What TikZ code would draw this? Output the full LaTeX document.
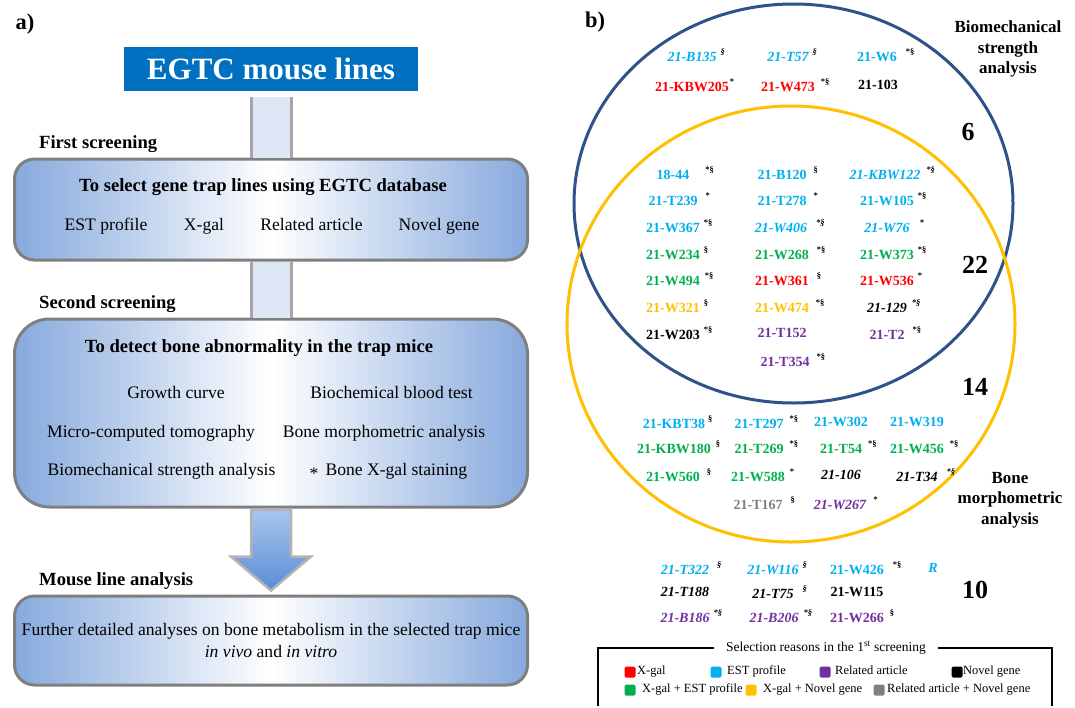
\documentclass[tikz,border=0pt]{standalone}
\usepackage{fontspec}
\setmainfont{Liberation Serif}
\usetikzlibrary{calc}

\definecolor{egtcblue}{HTML}{0070C0}
\definecolor{boxblue}{HTML}{86A9DD}
\definecolor{framegray}{HTML}{7F7F7F}
\definecolor{shaftblue}{HTML}{DCE6F4}
\definecolor{shaftgray}{HTML}{A6A6A6}
\definecolor{arrowtop}{HTML}{A9C5EC}
\definecolor{arrowbot}{HTML}{5A8DD6}
\definecolor{arrowgray}{HTML}{B4B4B4}
\definecolor{bmnavy}{HTML}{2F5289}
\definecolor{bonegold}{HTML}{FFC000}
% selection reasons
\definecolor{xgalred}{HTML}{FF0000}
\definecolor{estcyan}{HTML}{00B0F0}
\definecolor{relpurple}{HTML}{7030A0}
\definecolor{xestgreen}{HTML}{00B050}
\definecolor{xnovgold}{HTML}{FFC000}
\definecolor{relnovgray}{HTML}{808080}

% marks after a line name, kept out of the centring
\newcommand{\selmark}[2][5pt]{\rlap{\hspace{#1}\raisebox{7pt}{\fontsize{8.5}{9}\selectfont\color{black}#2}}}

\tikzset{
  panel/.style={font=\fontsize{22.5}{26}\selectfont\bfseries, inner sep=0pt},
  titlebox/.style={fill=egtcblue, text=white, font=\fontsize{31}{36}\selectfont\bfseries, inner sep=0pt},
  stage/.style={draw=framegray, line width=3pt, left color=boxblue, right color=boxblue, middle color=white, inner sep=0pt},
  stagelabel/.style={font=\fontsize{18.6}{22}\selectfont\bfseries, inner sep=0pt, anchor=base west},
  boxhead/.style={font=\fontsize{18.6}{22}\selectfont\bfseries, inner sep=0pt, anchor=base},
  boxitem/.style={font=\fontsize{17.6}{21}\selectfont, inner sep=0pt, anchor=base},
  shaft/.style={fill=shaftblue, draw=none},
  shaftside/.style={draw=shaftgray, line width=3pt},
  bigarrow/.style={draw=arrowgray, line width=2.5pt, top color=arrowtop, bottom color=arrowbot},
  gene/.style={font=\fontsize{14}{16}\selectfont\bfseries, inner sep=0pt},
  igene/.style={font=\fontsize{14}{16}\selectfont\bfseries\itshape, inner sep=0pt},
  count/.style={font=\fontsize{26}{30}\selectfont\bfseries, inner sep=0pt},
  setname/.style={font=\fontsize{17}{20.5}\selectfont\bfseries, align=center, inner sep=0pt},
  legframe/.style={draw=black, line width=2pt},
  legtitle/.style={fill=white, font=\fontsize{13.5}{16}\selectfont, inner xsep=12pt, inner ysep=2pt},
  legtext/.style={font=\fontsize{12.5}{15}\selectfont, inner sep=0pt, anchor=mid west},
  swatch/.style={minimum size=11pt, inner sep=0pt, rounded corners=1.5pt},
}

\begin{document}
\begin{tikzpicture}[x=1pt, y=-1pt]

  \path[fill=white] (0,0) rectangle (1075,707);
  \useasboundingbox (0,0) rectangle (1075,707);

  % a) screening flow
  \node[panel] (pa) at (25,24) {a)};

  \node[titlebox, minimum width=294pt, minimum height=44pt] (egtc) at (271,69) {EGTC mouse lines};

  \node[stage, rounded corners=20pt, minimum width=513pt, minimum height=101pt] (select) at (271,209.5) {};
  \node[stage, rounded corners=35pt, minimum width=513pt, minimum height=188pt] (screen) at (271,413) {};
  \node[stage, rounded corners=20pt, minimum width=513pt, minimum height=89pt] (analysis) at (271,640.5) {};

  \fill[shaft] ($(egtc.south)+(-20,6)$) rectangle ($(select.north)+(20,0)$);
  \draw[shaftside] ($(egtc.south)+(-20,6)$) -- ($(select.north)+(-20,0)$);
  \draw[shaftside] ($(egtc.south)+(20,6)$) -- ($(select.north)+(20,0)$);

  \fill[shaft] ($(select.south)+(-20,0)$) rectangle ($(screen.north)+(20,0)$);
  \draw[shaftside] ($(select.south)+(-20,0)$) -- ($(screen.north)+(-20,0)$);
  \draw[shaftside] ($(select.south)+(20,0)$) -- ($(screen.north)+(20,0)$);

  \draw[bigarrow] ($(screen.south)+(-20,1)$) -- ($(analysis.north)+(-20,-38)$) -- ++(-20,0)
    -- ($(analysis.north)+(0,-4)$) -- ($(analysis.north)+(40,-38)$) -- ++(-20,0)
    -- ($(screen.south)+(20,1)$) -- cycle;

  \node[stagelabel] (first) at (39,148) {First screening};
  \node[boxhead] (selhead) at (263,191) {To select gene trap lines using EGTC database};
  \node[boxitem] (est) at (106,230) {EST profile};
  \node[boxitem] (xgal) at (204,230) {X-gal};
  \node[boxitem] (rel) at (311.5,230) {Related article};
  \node[boxitem] (novel) at (439,230) {Novel gene};

  \node[stagelabel] (second) at (39,308) {Second screening};
  \node[boxhead] (scrhead) at (259,352) {To detect bone abnormality in the trap mice};
  \node[boxitem] (growth) at (176,398) {Growth curve};
  \node[boxitem] (blood) at (391.5,398) {Biochemical blood test};
  \node[boxitem] (microct) at (151,437) {Micro-computed tomography};
  \node[boxitem] (morph) at (384,437) {Bone morphometric analysis};
  \node[boxitem] (strength) at (161.5,475) {Biomechanical strength analysis};
  \node[boxitem] (stain) at (388.5,475) {\raisebox{-4pt}{*}\hspace{7pt}Bone X-gal staining};

  \node[stagelabel] (third) at (39,585) {Mouse line analysis};
  \node[boxitem] (further) at (271,635) {Further detailed analyses on bone metabolism in the selected trap mice};
  \node[boxitem] (invivo) at (271,657) {\textit{in vivo} and \textit{in vitro}};

  % b) Venn diagram
  \node[panel] (pb) at (595,22) {b)};

  \draw[bmnavy, line width=3pt] (793.5,203.5) ellipse [x radius=219.5, y radius=199.5];
  \draw[bonegold, line width=3pt] (791,324) ellipse [x radius=224, y radius=218];

  \node[setname] (bmname) at (1008,49) {Biomechanical\\strength\\analysis};
  \node[setname] (bonename) at (1010,500) {Bone\\morphometric\\analysis};

  \node[count] (n6) at (968,132) {6};
  \node[count] (n22) at (975,265) {22};
  \node[count] (n14) at (975,387) {14};
  \node[count] (n10) at (975,590) {10};

  % biomechanical only
  \node[igene, estcyan] (b135) at (692,55) {21-B135\selmark[4pt]{§}};
  \node[igene, estcyan] (t57) at (788,55) {21-T57\selmark[4pt]{§}};
  \node[gene, estcyan] (w6) at (877,55) {21-W6\selmark[9pt]{*§}};
  \node[gene, xgalred] (kbw205) at (692,85) {21-KBW205\selmark[1pt]{*}};
  \node[gene, xgalred] (w473) at (788,85) {21-W473\selmark[6pt]{*§}};
  \node[gene] (l103) at (878,85) {21-103};

  % both analyses
  \node[gene, estcyan] (l1844) at (673,173) {18-44\selmark[16pt]{*§}};
  \node[gene, estcyan] (b120) at (782,173) {21-B120\selmark[7pt]{§}};
  \node[igene, estcyan] (kbw122) at (885,173) {21-KBW122\selmark[6pt]{*§}};
  \node[gene, estcyan] (t239) at (673,199) {21-T239\selmark[8pt]{*}};
  \node[gene, estcyan] (t278) at (782,199) {21-T278\selmark[7pt]{*}};
  \node[gene, estcyan] (w105) at (887,199) {21-W105\selmark[4pt]{*§}};
  \node[gene, estcyan] (w367) at (673,226) {21-W367\selmark[4pt]{*§}};
  \node[igene, estcyan] (w406) at (781,226) {21-W406\selmark[9pt]{*§}};
  \node[igene, estcyan] (w76) at (887,226) {21-W76\selmark[10pt]{*}};
  \node[gene, xestgreen] (w234) at (673,253) {21-W234\selmark[4pt]{§}};
  \node[gene, xestgreen] (w268) at (782,253) {21-W268\selmark[8pt]{*§}};
  \node[gene, xestgreen] (w373) at (887,253) {21-W373\selmark[4pt]{*§}};
  \node[gene, xestgreen] (w494) at (673,279) {21-W494\selmark[5pt]{*§}};
  \node[gene, xgalred] (w361) at (782,279) {21-W361\selmark[8pt]{§}};
  \node[gene, xgalred] (w536) at (887,279) {21-W536\selmark[4pt]{*}};
  \node[gene, xnovgold] (w321) at (673,306) {21-W321\selmark[4pt]{§}};
  \node[gene, xnovgold] (w474) at (782,306) {21-W474\selmark[7pt]{*§}};
  \node[igene] (l129) at (887,306) {21-129\selmark[5pt]{*§}};
  \node[gene] (w203) at (673,333) {21-W203\selmark[4pt]{*§}};
  \node[gene, relpurple] (t152) at (782,333) {21-T152};
  \node[gene, relpurple] (t2) at (887,333) {21-T2\selmark[8pt]{*§}};
  \node[gene, relpurple] (t354) at (785,360) {21-T354\selmark[7pt]{*§}};

  % bone morphometry only
  \node[gene, estcyan] (kbt38) at (674,422) {21-KBT38\selmark[3pt]{§}};
  \node[gene, estcyan] (t297) at (759,422) {21-T297\selmark[6pt]{*§}};
  \node[gene, estcyan] (w302) at (841,422) {21-W302};
  \node[gene, estcyan] (w319) at (917,422) {21-W319};
  \node[gene, xestgreen] (kbw180) at (674,447) {21-KBW180\selmark[5pt]{§}};
  \node[gene, xestgreen] (t269) at (759,447) {21-T269\selmark[6pt]{*§}};
  \node[gene, xestgreen] (t54) at (841,447) {21-T54\selmark[6pt]{*§}};
  \node[gene, xestgreen] (w456) at (917,447) {21-W456\selmark[6pt]{*§}};
  \node[gene, xestgreen] (w560) at (673,475) {21-W560\selmark[7pt]{§}};
  \node[gene, xestgreen] (w588) at (758,475) {21-W588\selmark[5pt]{*}};
  \node[igene] (l106) at (841,475) {21-106};
  \node[igene] (t34) at (917,475) {21-T34\selmark[9pt]{*§}};
  \node[gene, relnovgray] (t167) at (758,503) {21-T167\selmark[8pt]{§}};
  \node[igene, relpurple] (w267) at (840,503) {21-W267\selmark[7pt]{*}};

  % neither
  \node[igene, estcyan] (t322) at (685,568) {21-T322\selmark[8pt]{§}};
  \node[igene, estcyan] (w116) at (773,568) {21-W116\selmark[4pt]{§}};
  \node[gene, estcyan] (w426) at (857,568) {21-W426\selmark[9pt]{*§}};
  \node[igene, estcyan] (rr) at (933,568) {R};
  \node[igene] (t188) at (685,592) {21-T188};
  \node[igene] (t75) at (773,592) {21-T75\selmark[9pt]{§}};
  \node[gene] (w115) at (857,592) {21-W115};
  \node[igene, relpurple] (b186) at (685,616) {21-B186\selmark[4pt]{*§}};
  \node[igene, relpurple] (b206) at (774,616) {21-B206\selmark[5pt]{*§}};
  \node[gene, relpurple] (w266) at (857,616) {21-W266\selmark[6pt]{§}};

  % legend
  \node[legtitle] (legt) at (826,648) {Selection reasons in the 1\textsuperscript{st} screening};
  \draw[legframe] (598,706) |- (legt.west);
  \draw[legframe] (legt.east) -| (1052,706);

  \node[swatch, fill=xgalred] (sqxgal) at (630,672) {};
  \node[legtext] (lxgal) at (637,672) {X-gal};
  \node[swatch, fill=estcyan] (sqest) at (716,672) {};
  \node[legtext] (lest) at (727,672) {EST profile};
  \node[swatch, fill=relpurple] (sqrel) at (825,672) {};
  \node[legtext] (lrel) at (835,672) {Related article};
  \node[swatch, fill=black] (sqnov) at (957,672) {};
  \node[legtext] (lnov) at (963,672) {Novel gene};
  \node[swatch, fill=xestgreen] (sqxest) at (630,690) {};
  \node[legtext] (lxest) at (642,690) {X-gal + EST profile};
  \node[swatch, fill=xnovgold] (sqxnov) at (751,690) {};
  \node[legtext] (lxnov) at (763,690) {X-gal + Novel gene};
  \node[swatch, fill=relnovgray] (sqrelnov) at (879,690) {};
  \node[legtext] (lrelnov) at (887,690) {Related article + Novel gene};

\end{tikzpicture}
\end{document}
